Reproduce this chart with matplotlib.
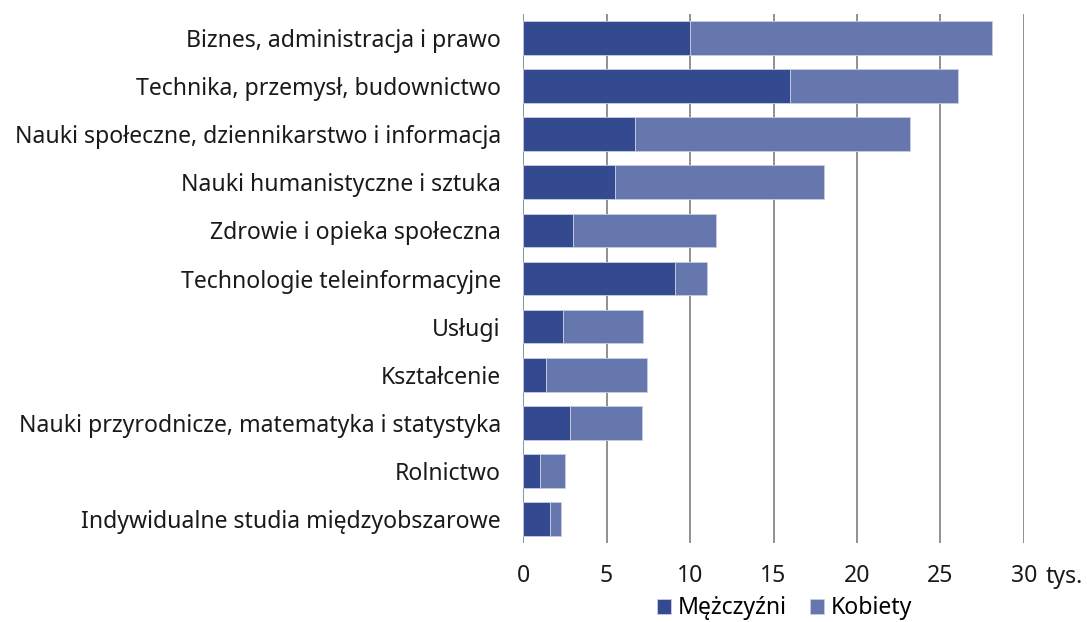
import numpy as np
import matplotlib.pyplot as plt

plt.rcParams['font.family'] = ['Noto Sans', 'DejaVu Sans']

# dane (tys.)
kategorie = ['Biznes, administracja i prawo',
             'Technika, przemysł, budownictwo',
             'Nauki społeczne, dziennikarstwo i informacja',
             'Nauki humanistyczne i sztuka',
             'Zdrowie i opieka społeczna',
             'Technologie teleinformacyjne',
             'Usługi',
             'Kształcenie',
             'Nauki przyrodnicze, matematyka i statystyka',
             'Rolnictwo',
             'Indywidualne studia międzyobszarowe']
mezczyzni = [10.0, 16.0, 6.7, 5.5, 3.0, 9.1, 2.4, 1.4, 2.8, 1.0, 1.6]
kobiety = [18.1, 10.05, 16.45, 12.55, 8.55, 1.9, 4.8, 6.05, 4.35, 1.5, 0.7]
ticki = [0, 5, 10, 15, 20, 25, 30]

kolor_m = '#334a91'
kolor_k = '#6677ad'
fs = 16.6

fig = plt.figure(figsize=(10.87, 6.22), dpi=100)
ax = fig.add_axes([0.4812, 0.127, 0.4608, 0.8505])

y = np.arange(len(kategorie))
ax.barh(y, mezczyzni, height=0.7, color=kolor_m, edgecolor='#c8cde3', linewidth=0.6,
        label='Mężczyźni', zorder=3)
ax.barh(y, kobiety, left=mezczyzni, height=0.7, color=kolor_k, edgecolor='#c8cde3',
        linewidth=0.6, label='Kobiety', zorder=3)

ax.set_xlim(0, 30)
ax.set_ylim(len(kategorie) - 0.5, -0.5)
ax.set_yticks(y)
ax.set_yticklabels(kategorie, fontsize=fs, color='#1a1a1a')
ax.set_xticks(ticks=ticki)
ax.set_xticklabels([str(t) for t in ticki], fontsize=fs, color='#1a1a1a')
ax.tick_params(axis='y', length=0, pad=16)
ax.tick_params(axis='x', length=0, pad=15)

for t in ticki:
    ax.axvline(t, color='#888888', linewidth=1.3, zorder=1)
for s in ax.spines.values():
    s.set_visible(False)

fig.text(0.962, 0.072, 'tys.', fontsize=fs, color='#1a1a1a', va='center')

fig.legend(loc='center', bbox_to_anchor=(0.722, 0.022), ncol=2, frameon=False,
           fontsize=fs, handlelength=0.6, handleheight=0.6, handletextpad=0.3,
           columnspacing=1.0, borderpad=0)

fig.savefig('out.png', dpi=100)
